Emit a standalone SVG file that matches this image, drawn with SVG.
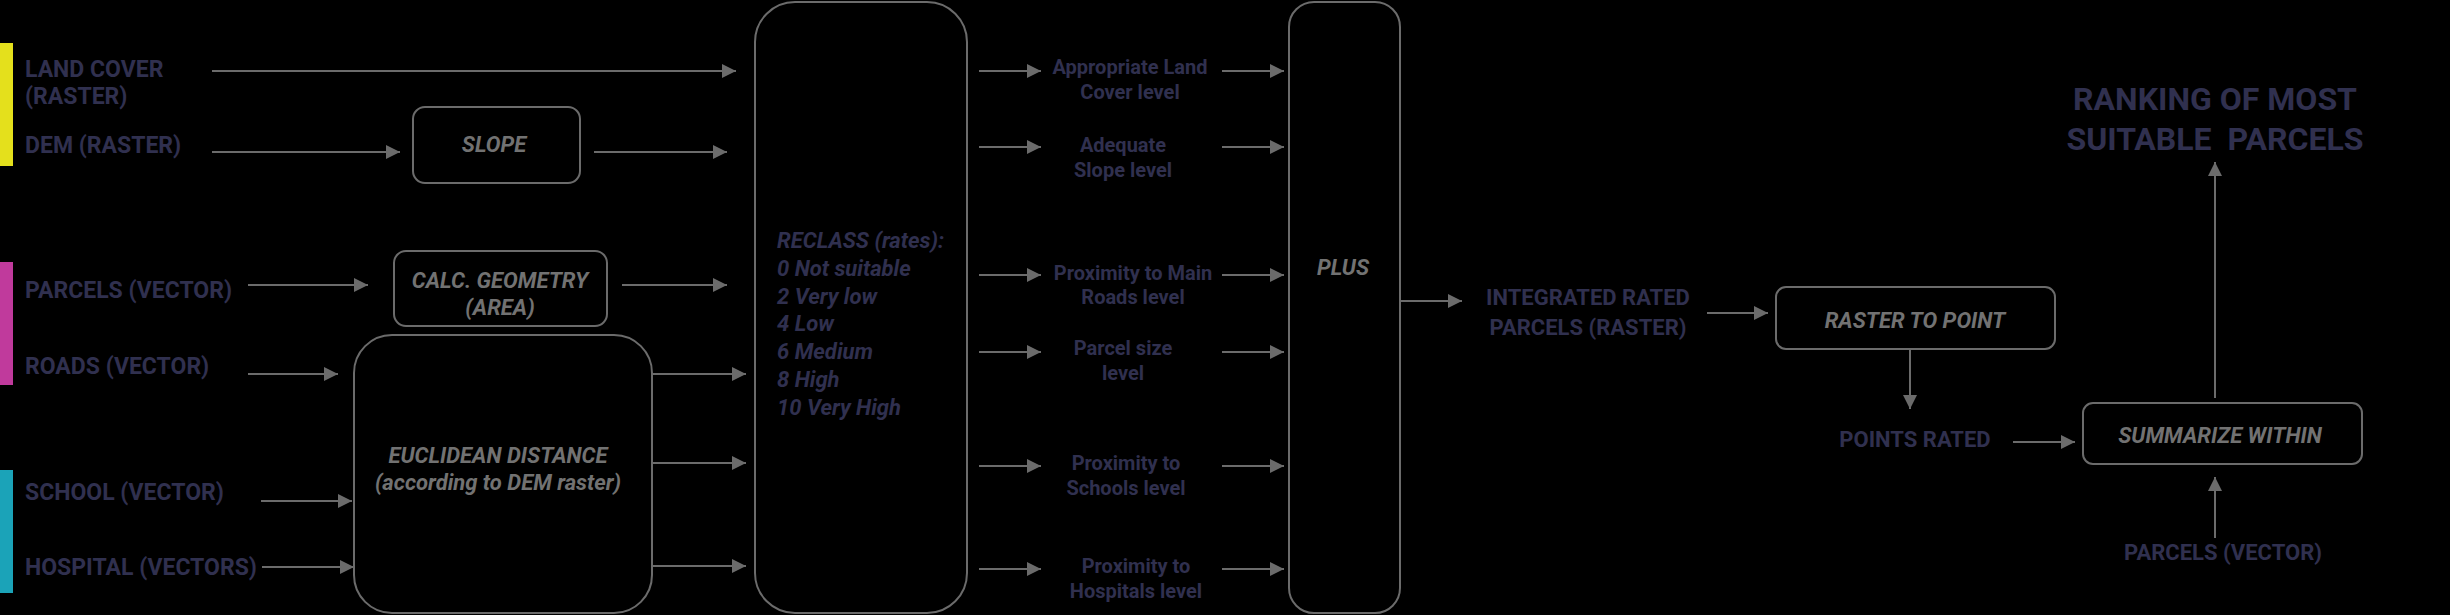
<svg xmlns="http://www.w3.org/2000/svg" width="2450" height="615" viewBox="0 0 2450 615">
<defs>
<marker id="ah" markerUnits="userSpaceOnUse" markerWidth="14" markerHeight="14" refX="14" refY="7" orient="auto">
<path d="M0,0 L14,7 L0,14 z" fill="#6b6b6b"/>
</marker>
<style>
.lbl{font-family:Roboto,"Liberation Sans",sans-serif;font-weight:700;fill:#30304f;font-size:23px}
.mid{font-family:Roboto,"Liberation Sans",sans-serif;font-weight:700;fill:#30304f;font-size:20px;text-anchor:middle}
.op{font-family:Roboto,"Liberation Sans",sans-serif;font-weight:700;font-style:italic;fill:#727272;font-size:22px;text-anchor:middle}
.rc{font-family:Roboto,"Liberation Sans",sans-serif;font-weight:700;font-style:italic;fill:#30304f;font-size:22px}
.box{fill:none;stroke:#6b6b6b;stroke-width:2}
.cn{fill:none;stroke:#6b6b6b;stroke-width:2;marker-end:url(#ah)}
</style>
</defs>
<rect width="2450" height="615" fill="#000"/>
<rect x="0" y="43" width="13" height="123" fill="#e4e01c"/>
<rect x="0" y="262" width="13" height="123" fill="#c03a9c"/>
<rect x="0" y="470" width="13" height="123" fill="#1ba3b8"/>

<g id="land-cover"><text class="lbl" x="25" y="77">LAND COVER</text><text class="lbl" x="25" y="104">(RASTER)</text></g>
<g id="dem"><text class="lbl" x="25" y="153">DEM (RASTER)</text></g>
<g id="parcels"><text class="lbl" x="25" y="298">PARCELS (VECTOR)</text></g>
<g id="roads"><text class="lbl" x="25" y="374">ROADS (VECTOR)</text></g>
<g id="school"><text class="lbl" x="25" y="500">SCHOOL (VECTOR)</text></g>
<g id="hospital"><text class="lbl" x="25" y="575">HOSPITAL (VECTORS)</text></g>

<g id="slope"><rect class="box" x="413" y="107" width="167" height="76" rx="12"/><text class="op" x="494" y="152">SLOPE</text></g>
<g id="calc-geometry"><rect class="box" x="394" y="251" width="213" height="75" rx="12"/><text class="op" x="500" y="288">CALC. GEOMETRY</text><text class="op" x="500" y="315">(AREA)</text></g>
<g id="euclidean"><rect class="box" x="354" y="335" width="298" height="278" rx="38"/><text class="op" x="498" y="463">EUCLIDEAN DISTANCE</text><text class="op" x="498" y="490">(according to DEM raster)</text></g>

<g id="reclass"><rect class="box" x="755" y="2" width="212" height="611" rx="40"/>
<text class="rc" x="777" y="248">RECLASS (rates):</text>
<text class="rc" x="777" y="276">0 Not suitable</text>
<text class="rc" x="777" y="304">2 Very low</text>
<text class="rc" x="777" y="331">4 Low</text>
<text class="rc" x="777" y="359">6 Medium</text>
<text class="rc" x="777" y="387">8 High</text>
<text class="rc" x="777" y="415">10 Very High</text></g>

<g id="lvl-landcover"><text class="mid" x="1130" y="74">Appropriate Land</text><text class="mid" x="1130" y="99">Cover level</text></g>
<g id="lvl-slope"><text class="mid" x="1123" y="152">Adequate</text><text class="mid" x="1123" y="177">Slope level</text></g>
<g id="lvl-roads"><text class="mid" x="1133" y="280">Proximity to Main</text><text class="mid" x="1133" y="304">Roads level</text></g>
<g id="lvl-parcel"><text class="mid" x="1123" y="355">Parcel size</text><text class="mid" x="1123" y="380">level</text></g>
<g id="lvl-schools"><text class="mid" x="1126" y="470">Proximity to</text><text class="mid" x="1126" y="495">Schools level</text></g>
<g id="lvl-hospitals"><text class="mid" x="1136" y="573">Proximity to</text><text class="mid" x="1136" y="598">Hospitals level</text></g>

<g id="plus"><rect class="box" x="1289" y="2" width="111" height="611" rx="25"/><text class="op" x="1343" y="275">PLUS</text></g>
<g id="integrated"><text class="mid" x="1588" y="305" style="font-size:22px">INTEGRATED RATED</text><text class="mid" x="1588" y="335" style="font-size:22px">PARCELS (RASTER)</text></g>
<g id="raster-to-point"><rect class="box" x="1776" y="287" width="279" height="62" rx="10"/><text class="op" x="1915" y="328">RASTER TO POINT</text></g>
<g id="points-rated"><text class="mid" x="1915" y="447" style="font-size:22px">POINTS RATED</text></g>
<g id="summarize"><rect class="box" x="2083" y="403" width="279" height="61" rx="10"/><text class="op" x="2220" y="443">SUMMARIZE WITHIN</text></g>
<g id="parcels2"><text class="mid" x="2223" y="560" style="font-size:22px">PARCELS (VECTOR)</text></g>
<g id="ranking"><text class="mid" x="2215" y="110" style="font-size:32px">RANKING OF MOST</text><text class="mid" x="2215" y="150" style="font-size:32px" xml:space="preserve">SUITABLE  PARCELS</text></g>

<g id="connectors">
<line class="cn" x1="212" y1="71" x2="736" y2="71"/>
<line class="cn" x1="212" y1="152" x2="400" y2="152"/>
<line class="cn" x1="594" y1="152" x2="727" y2="152"/>
<line class="cn" x1="248" y1="285" x2="368" y2="285"/>
<line class="cn" x1="622" y1="285" x2="727" y2="285"/>
<line class="cn" x1="248" y1="374" x2="338" y2="374"/>
<line class="cn" x1="261" y1="501" x2="352" y2="501"/>
<line class="cn" x1="262" y1="567" x2="354" y2="567"/>
<line class="cn" x1="653" y1="374" x2="746" y2="374"/>
<line class="cn" x1="653" y1="463" x2="746" y2="463"/>
<line class="cn" x1="653" y1="566" x2="746" y2="566"/>
<line class="cn" x1="979" y1="71" x2="1041" y2="71"/>
<line class="cn" x1="979" y1="147" x2="1041" y2="147"/>
<line class="cn" x1="979" y1="275" x2="1041" y2="275"/>
<line class="cn" x1="979" y1="352" x2="1041" y2="352"/>
<line class="cn" x1="979" y1="466" x2="1041" y2="466"/>
<line class="cn" x1="979" y1="569" x2="1041" y2="569"/>
<line class="cn" x1="1222" y1="71" x2="1284" y2="71"/>
<line class="cn" x1="1222" y1="147" x2="1284" y2="147"/>
<line class="cn" x1="1222" y1="275" x2="1284" y2="275"/>
<line class="cn" x1="1222" y1="352" x2="1284" y2="352"/>
<line class="cn" x1="1222" y1="466" x2="1284" y2="466"/>
<line class="cn" x1="1222" y1="569" x2="1284" y2="569"/>
<line class="cn" x1="1400" y1="301" x2="1462" y2="301"/>
<line class="cn" x1="1707" y1="313" x2="1768" y2="313"/>
<line class="cn" x1="1910" y1="349" x2="1910" y2="409"/>
<line class="cn" x1="2013" y1="442" x2="2075" y2="442"/>
<line class="cn" x1="2215" y1="538" x2="2215" y2="477"/>
<line class="cn" x1="2215" y1="398" x2="2215" y2="162"/>
</g>
</svg>
